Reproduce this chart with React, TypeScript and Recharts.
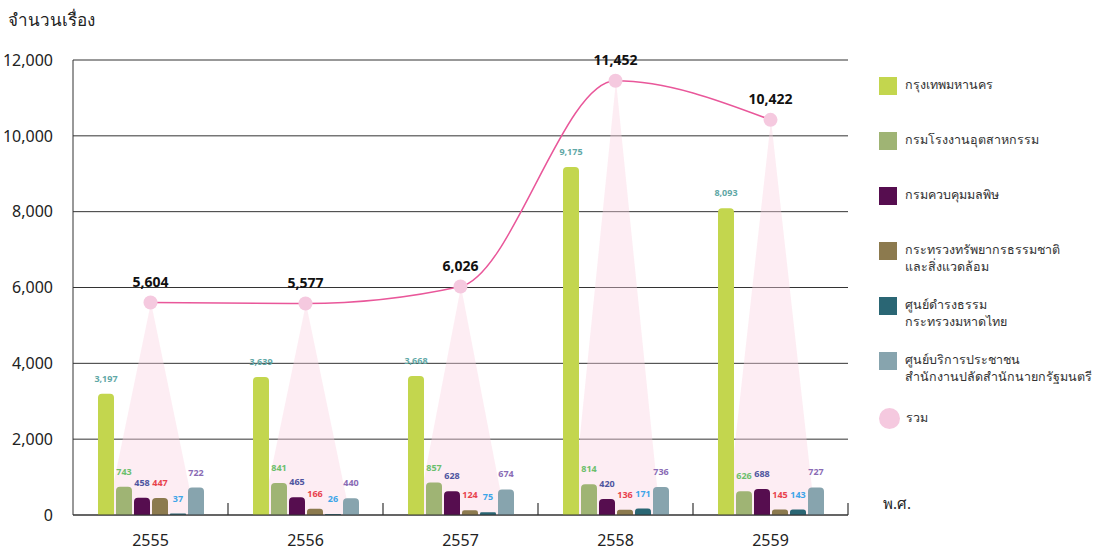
import React from 'react';
import {
    Bar,
    CartesianGrid,
    ComposedChart,
    LabelList,
    Line,
    XAxis,
    YAxis
} from 'recharts';

// ปี พ.ศ.
const years = ['2555', '2556', '2557', '2558', '2559'];

// จำนวนเรื่องแยกตามหน่วยงาน
const bangkok = [3197, 3639, 3668, 9175, 8093];
const industryDept = [743, 841, 857, 814, 626];
const pollutionDept = [458, 465, 628, 420, 688];
const resourcesMinistry = [447, 166, 124, 136, 145];
const damrongCenter = [37, 26, 75, 171, 143];
const pmOffice = [722, 440, 674, 736, 727];
const totals = [5604, 5577, 6026, 11452, 10422];

const yTicks = [0, 2000, 4000, 6000, 8000, 10000, 12000];

const FONT = '"Noto Sans", "DejaVu Sans", sans-serif';

interface SeriesConfig {
    dataKey: string;
    name: string[];
    fill: string;
    labelColor: string;
}

const SERIES: SeriesConfig[] = [
    { dataKey: 'bangkok', name: ['กรุงเทพมหานคร'], fill: '#c3d64e', labelColor: '#5fa8a6' },
    { dataKey: 'industryDept', name: ['กรมโรงงานอุตสาหกรรม'], fill: '#9fb474', labelColor: '#6cbf6c' },
    { dataKey: 'pollutionDept', name: ['กรมควบคุมมลพิษ'], fill: '#560d4f', labelColor: '#4e55a0' },
    { dataKey: 'resourcesMinistry', name: ['กระทรวงทรัพยากรธรรมชาติ', 'และสิ่งแวดล้อม'], fill: '#8c7a4e', labelColor: '#e8424c' },
    { dataKey: 'damrongCenter', name: ['ศูนย์ดำรงธรรม', 'กระทรวงมหาดไทย'], fill: '#2a6674', labelColor: '#3da5e8' },
    { dataKey: 'pmOffice', name: ['ศูนย์บริการประชาชน', 'สำนักงานปลัดสำนักนายกรัฐมนตรี'], fill: '#87a4ae', labelColor: '#8a6bb5' }
];

const data = years.map((year, i) => ({
    year,
    bangkok: bangkok[i],
    industryDept: industryDept[i],
    pollutionDept: pollutionDept[i],
    resourcesMinistry: resourcesMinistry[i],
    damrongCenter: damrongCenter[i],
    pmOffice: pmOffice[i],
    total: totals[i]
}));

const fmt = (v: any) => Number(v).toLocaleString('en-US');

// สามเหลี่ยมสีชมพูจากจุดรวมลงไปที่แกน
const Cone = (props: any) => {
    const { x, y, width, height } = props;
    if (height == null || height <= 0) return null;
    const pts = `${x + width / 2},${y} ${x},${y + height} ${x + width},${y + height}`;
    return <polygon points={pts} fill="#fbd3e2" fillOpacity={0.4} />;
};

// แกน X: ชื่อปีตรงกลาง และขีดที่ขอบของแต่ละกลุ่ม
const YearTick = (props: any) => {
    const { x, y, payload } = props;
    const off = payload.offset ?? 0;
    return (
        <g>
            <text x={x} y={y + 31} textAnchor="middle" fontSize={16} fill="#222" fontFamily={FONT}>
                {payload.value}
            </text>
            <line x1={x + off} x2={x + off} y1={y - 12} y2={y} stroke="#333" strokeWidth={1.2} />
        </g>
    );
};

const LegendBox = () => (
    <div style={{ fontFamily: FONT, fontSize: 12.5, color: '#333' }}>
        {SERIES.map((s) => (
            <div key={s.dataKey} style={{ display: 'flex', alignItems: 'flex-start', height: 55 }}>
                <div style={{ width: 18, height: 18, background: s.fill, marginRight: 8, flexShrink: 0 }} />
                <div style={{ lineHeight: '17px', marginTop: -1 }}>
                    {s.name.map((line) => (
                        <div key={line}>{line}</div>
                    ))}
                </div>
            </div>
        ))}
        <div style={{ display: 'flex', alignItems: 'center', height: 22 }}>
            <div style={{ width: 21, height: 21, borderRadius: '50%', background: '#f5c9df', marginRight: 6 }} />
            <div>รวม</div>
        </div>
    </div>
);

export default function App() {
    return (
        <div style={{ position: 'absolute', left: 0, top: 0, width: 1101, height: 551, background: '#fff', fontFamily: FONT }}>
            <div style={{ position: 'absolute', left: 8, top: 6, fontSize: 17, color: '#222' }}>จำนวนเรื่อง</div>
            <div style={{ position: 'absolute', left: 883, top: 492, fontSize: 15, color: '#222' }}>พ.ศ.</div>
            <div style={{ position: 'absolute', left: 879, top: 77, width: 222 }}>
                <LegendBox />
            </div>
            <ComposedChart
                width={1101}
                height={551}
                data={data}
                margin={{ top: 60, right: 253, bottom: 0, left: 0 }}
                barSize={16}
                barGap={2}
            >
                <CartesianGrid vertical={false} stroke="#333" strokeWidth={1} />
                <XAxis
                    dataKey="year"
                    height={36}
                    tick={<YearTick />}
                    tickLine={false}
                    tickSize={0}
                    tickMargin={0}
                    axisLine={{ stroke: '#333', strokeWidth: 1.2 }}
                    interval={0}
                />
                <XAxis xAxisId="cone" dataKey="year" hide />
                <YAxis
                    domain={[0, 12000]}
                    ticks={yTicks}
                    width={73}
                    tickFormatter={fmt}
                    tickLine={false}
                    tickMargin={14}
                    axisLine={{ stroke: '#333' }}
                    tick={{ fontSize: 16, fill: '#222', fontFamily: FONT }}
                />
                <Bar
                    xAxisId="cone"
                    dataKey="total"
                    barSize={88}
                    shape={<Cone />}
                    isAnimationActive={false}
                    legendType="none"
                />
                {SERIES.map((s) => (
                    <Bar
                        key={s.dataKey}
                        dataKey={s.dataKey}
                        name={s.name.join(' ')}
                        fill={s.fill}
                        radius={[4, 4, 0, 0]}
                        isAnimationActive={false}
                    >
                        <LabelList
                            dataKey={s.dataKey}
                            position="top"
                            offset={12}
                            formatter={fmt}
                            style={{ fontSize: 9, fontWeight: 700, fill: s.labelColor, fontFamily: FONT }}
                        />
                    </Bar>
                ))}
                <Line
                    type="monotone"
                    dataKey="total"
                    name="รวม"
                    stroke="#e9579a"
                    strokeWidth={1.5}
                    dot={{ r: 7, fill: '#f5c9df', stroke: 'none' }}
                    isAnimationActive={false}
                >
                    <LabelList
                        dataKey="total"
                        position="top"
                        offset={16}
                        formatter={fmt}
                        style={{ fontSize: 14, fontWeight: 700, fill: '#111', fontFamily: FONT }}
                    />
                </Line>
            </ComposedChart>
        </div>
    );
}
